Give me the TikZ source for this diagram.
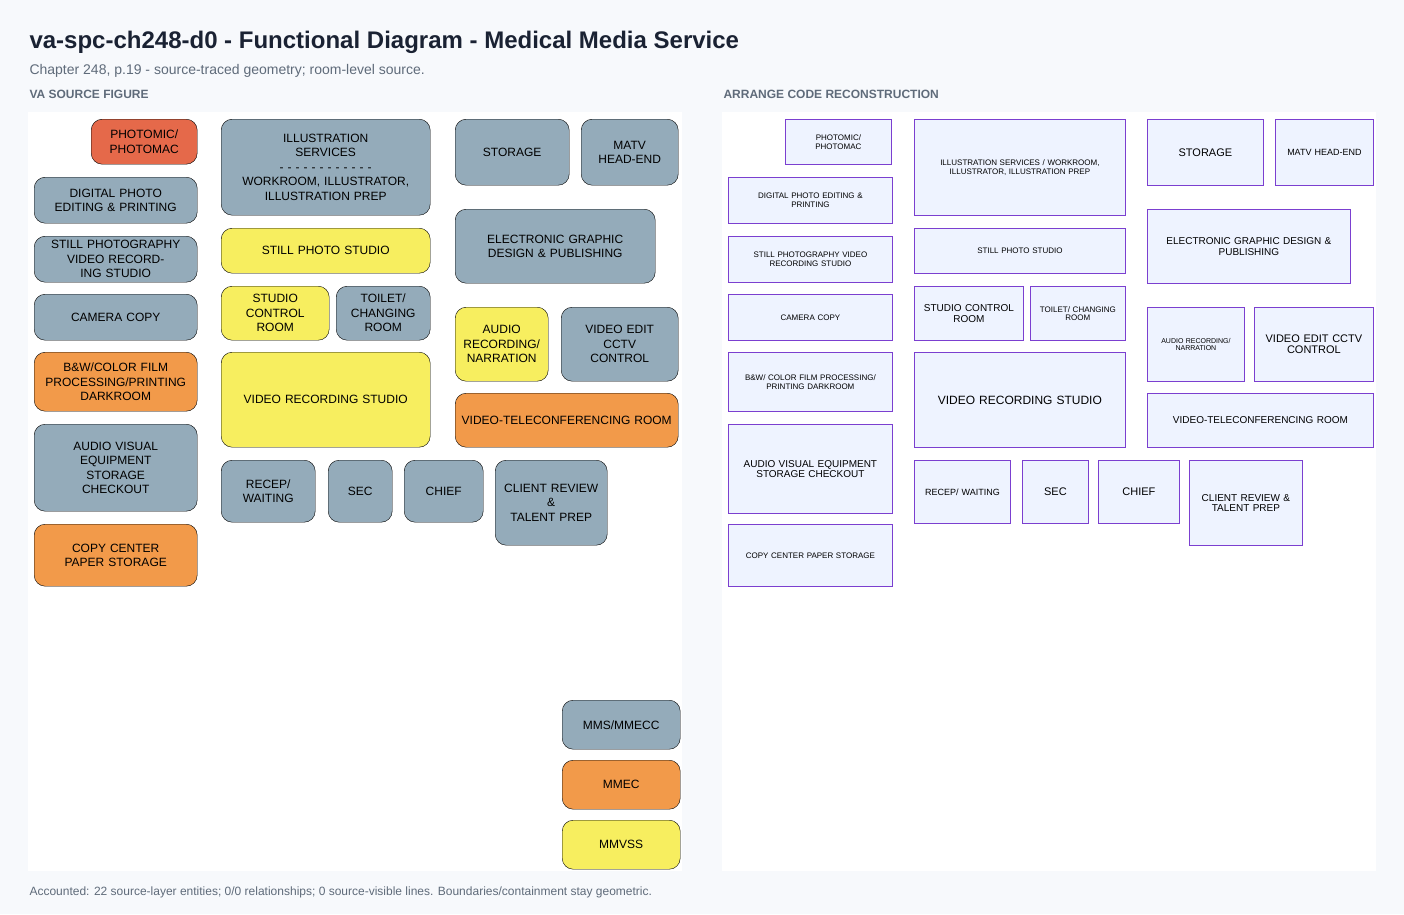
\documentclass[tikz,border=0pt]{standalone}
\usepackage{fontspec}
\setmainfont{Liberation Sans}
\usetikzlibrary{positioning}
\definecolor{bgpage}{HTML}{F7F9FC}
\definecolor{ink}{HTML}{1A2233}
\definecolor{subink}{HTML}{5F6B7A}
\definecolor{slate}{HTML}{94ABBA}
\definecolor{redorange}{HTML}{E5694A}
\definecolor{orangeroom}{HTML}{F29A4A}
\definecolor{yellowroom}{HTML}{F7EE5F}
\definecolor{paleroom}{HTML}{EEF3FF}
\definecolor{violet}{HTML}{7B3FD0}
\newcommand\room[7]{%
  \pgfmathsetmacro\rw{#4-#2}\pgfmathsetmacro\rh{#5-#3}\pgfmathsetmacro\tw{#4-#2-6}%
  \node[#6,minimum width=\rw pt,minimum height=\rh pt,text width=\tw pt] (#1) at (#2,#3) {#7};}
\begin{document}
\begin{tikzpicture}
		[x=1pt,y=-1pt,
		src/.style={draw=black,rounded corners=11pt,anchor=north west,inner sep=0pt,align=center,font=\fontsize{12}{14.5}\selectfont},
		gray/.style={src,fill=slate},
		red/.style={src,fill=redorange},
		orange/.style={src,fill=orangeroom},
		yellow/.style={src,fill=yellowroom},
		rec/.style={draw=violet,thick,fill=paleroom,anchor=north west,inner sep=0pt,align=center,font=\fontsize{8}{8.5}\selectfont},
		recbig/.style={rec,font=\fontsize{11}{10.5}\selectfont},
		head/.style={anchor=west,font=\bfseries\fontsize{12}{14}\selectfont,text=subink}]
		\fill[bgpage] (0,0) rectangle (1404,914);
		\useasboundingbox (0,0) rectangle (1404,914);
		\fill[white] (28,112) rectangle (682,871);
		\fill[white] (722,112) rectangle (1376,871);
		\node[anchor=west,font=\bfseries\fontsize{24}{28}\selectfont,text=ink] (title) at (26,42) {va-spc-ch248-d0 - Functional Diagram - Medical Media Service};
		\node[anchor=west,font=\fontsize{14}{16}\selectfont,text=subink] (subtitle) at (26,71) {Chapter 248, p.19 - source-traced geometry; room-level source.};
		\node[head] (lhead) at (26,94) {VA SOURCE FIGURE};
		\node[head] (rhead) at (720,94) {ARRANGE CODE RECONSTRUCTION};
		\node[anchor=west,font=\fontsize{12}{14}\selectfont,text=subink] (foot) at (26,892) {Accounted: 22 source-layer entities; 0/0 relationships; 0 source-visible lines. Boundaries/containment stay geometric.};
		% source figure
		\room{sphoto}{91}{119}{197}{164}{red}{PHOTOMIC/\\PHOTOMAC}
		\room{sillus}{221}{119}{430}{215}{gray}{ILLUSTRATION\\SERVICES\\- - - - - - - - - - - -\\WORKROOM, ILLUSTRATOR,\\ILLUSTRATION PREP}
		\room{sstor}{455}{119}{569}{185}{gray}{STORAGE}
		\room{smatv}{581}{119}{678}{185}{gray}{MATV\\HEAD-END}
		\room{sdig}{34}{177}{197}{223}{gray}{DIGITAL PHOTO\\EDITING \& PRINTING}
		\room{sstill}{34}{236}{197}{282}{gray}{STILL PHOTOGRAPHY\\VIDEO RECORDING STUDIO}
		\room{sstudio}{221}{228}{430}{273}{yellow}{STILL PHOTO STUDIO}
		\room{segd}{455}{209}{655}{283}{gray}{ELECTRONIC GRAPHIC\\DESIGN \& PUBLISHING}
		\room{scam}{34}{294}{197}{340}{gray}{CAMERA COPY}
		\room{sctrl}{221}{286}{329}{340}{yellow}{STUDIO\\CONTROL\\ROOM}
		\room{stoil}{336}{286}{430}{340}{gray}{TOILET/\\CHANGING\\ROOM}
		\room{saud}{455}{307}{548}{381}{yellow}{AUDIO\\RECORDING/\\NARRATION}
		\room{sedit}{561}{307}{678}{381}{gray}{VIDEO EDIT\\CCTV\\CONTROL}
		\room{sbw}{34}{352}{197}{411}{orange}{B\&W/COLOR FILM\\PROCESSING/PRINTING\\DARKROOM}
		\room{svrs}{221}{352}{430}{447}{yellow}{VIDEO RECORDING STUDIO}
		\room{svtc}{455}{393}{678}{447}{orange}{VIDEO-TELECONFERENCING ROOM}
		\room{sav}{34}{424}{197}{511}{gray}{AUDIO VISUAL\\EQUIPMENT\\STORAGE\\CHECKOUT}
		\room{srecep}{221}{460}{315}{522}{gray}{RECEP/\\WAITING}
		\room{ssec}{328}{460}{392}{522}{gray}{SEC}
		\room{schief}{404}{460}{483}{522}{gray}{CHIEF}
		\room{sclient}{495}{460}{607}{545}{gray}{CLIENT REVIEW\\\&\\TALENT PREP}
		\room{scopy}{34}{524}{197}{586}{orange}{COPY CENTER\\PAPER STORAGE}
		\room{smms}{562}{700}{680}{749}{gray}{MMS/MMECC}
		\room{smmec}{562}{760}{680}{809}{orange}{MMEC}
		\room{smmvss}{562}{820}{680}{869}{yellow}{MMVSS}
		% reconstruction
		\room{rphoto}{785}{119}{891}{164}{rec}{PHOTOMIC/\\PHOTOMAC}
		\room{rillus}{914}{119}{1125}{215}{rec}{ILLUSTRATION SERVICES / WORKROOM,\\ILLUSTRATOR, ILLUSTRATION PREP}
		\room{rstor}{1147}{119}{1263}{185}{recbig}{STORAGE}
		\room{rmatv}{1275}{119}{1373}{185}{rec,font=\fontsize{9}{10}\selectfont}{MATV HEAD-END}
		\room{rdig}{728}{177}{892}{223}{rec}{DIGITAL PHOTO EDITING \&\\PRINTING}
		\room{rstill}{728}{236}{892}{282}{rec}{STILL PHOTOGRAPHY VIDEO\\RECORDING STUDIO}
		\room{rstudio}{914}{228}{1125}{273}{rec}{STILL PHOTO STUDIO}
		\room{regd}{1147}{209}{1350}{283}{rec,font=\fontsize{10}{10.5}\selectfont}{ELECTRONIC GRAPHIC DESIGN \&\\PUBLISHING}
		\room{rcam}{728}{294}{892}{340}{rec}{CAMERA COPY}
		\room{rctrl}{914}{286}{1023}{340}{rec,font=\fontsize{10}{10.5}\selectfont}{STUDIO CONTROL\\ROOM}
		\room{rtoil}{1030}{286}{1125}{340}{rec}{TOILET/ CHANGING\\ROOM}
		\room{raud}{1147}{307}{1244}{381}{rec,font=\fontsize{7}{7.5}\selectfont}{AUDIO RECORDING/\\NARRATION}
		\room{redit}{1254}{307}{1373}{381}{recbig}{VIDEO EDIT CCTV\\CONTROL}
		\room{rbw}{728}{352}{892}{411}{rec}{B\&W/ COLOR FILM PROCESSING/\\PRINTING DARKROOM}
		\room{rvrs}{914}{352}{1125}{447}{rec,font=\fontsize{12}{13}\selectfont}{VIDEO RECORDING STUDIO}
		\room{rvtc}{1147}{393}{1373}{447}{rec,font=\fontsize{10}{11}\selectfont}{VIDEO-TELECONFERENCING ROOM}
		\room{rav}{728}{424}{892}{513}{rec,font=\fontsize{10}{10.5}\selectfont}{AUDIO VISUAL EQUIPMENT\\STORAGE CHECKOUT}
		\room{rrecep}{914}{460}{1010}{523}{rec,font=\fontsize{9}{10}\selectfont}{RECEP/ WAITING}
		\room{rsec}{1022}{460}{1088}{523}{recbig}{SEC}
		\room{rchief}{1098}{460}{1179}{523}{recbig}{CHIEF}
		\room{rclient}{1189}{460}{1302}{545}{rec,font=\fontsize{10}{10.5}\selectfont}{CLIENT REVIEW \&\\TALENT PREP}
		\room{rcopy}{728}{524}{892}{586}{rec}{COPY CENTER PAPER STORAGE}
	\end{tikzpicture}
\end{document}
